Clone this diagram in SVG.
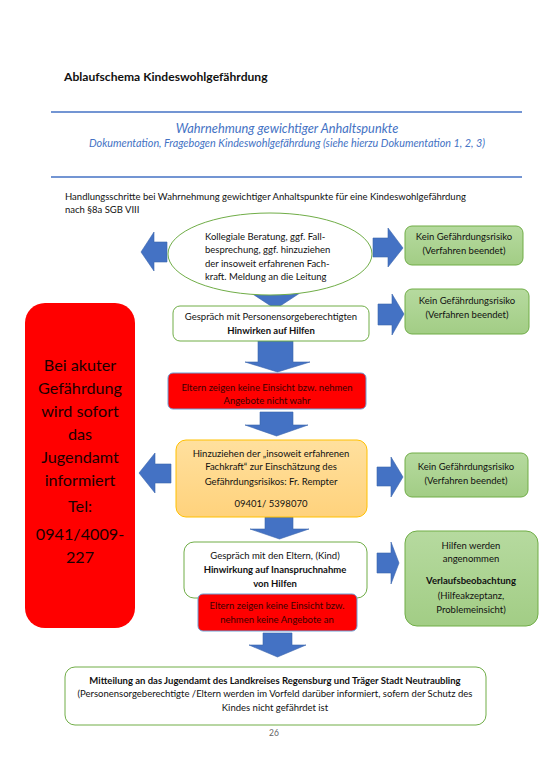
<svg xmlns="http://www.w3.org/2000/svg" width="546" height="779" viewBox="0 0 546 779">
<defs>
<linearGradient id="gGreen" x1="0" y1="0" x2="0" y2="1"><stop offset="0" stop-color="#b6da9f"/><stop offset="1" stop-color="#a2cd85"/></linearGradient>
<linearGradient id="gOrange" x1="0" y1="0" x2="0" y2="1"><stop offset="0" stop-color="#ffe09e"/><stop offset="1" stop-color="#ffd27c"/></linearGradient>
</defs>
<style>
text{font-family:Lato,"Liberation Sans",sans-serif;fill:#111}
.t{font-size:9.5px}
.c{text-anchor:middle}
.b{font-weight:bold}
.blue{fill:#4472c4;font-style:italic}
.arrow{fill:#4472c4;stroke:#3a64ad;stroke-width:0.6}
.green{fill:url(#gGreen);stroke:#70ad47;stroke-width:1}
.white{fill:#fff;stroke:#70ad47;stroke-width:1}
.red{fill:#ff0000;stroke:#6d9fd5;stroke-width:1}
.orange{fill:url(#gOrange);stroke:#ffc000;stroke-width:1}
.rt{fill:#3a0000}
.big{font-size:16.2px;fill:#1a0000;text-anchor:middle}
</style>
<rect width="546" height="779" fill="#fff"/>
<g id="header">
<text x="64" y="81" style="font-size:12.1px" class="b">Ablaufschema Kindeswohlgefährdung</text>
<line x1="51" y1="112" x2="522" y2="112" stroke="#4472c4" stroke-width="1.5"/>
<text x="287" y="133" class="blue c" style="font-size:12.8px">Wahrnehmung gewichtiger Anhaltspunkte</text>
<text x="287" y="147" class="blue c" style="font-size:10.8px">Dokumentation, Fragebogen Kindeswohlgefährdung (siehe hierzu Dokumentation 1, 2, 3)</text>
<line x1="51" y1="177" x2="522" y2="177" stroke="#4472c4" stroke-width="1.5"/>
<text x="65" y="200" style="font-size:9.5px">Handlungsschritte bei Wahrnehmung gewichtiger Anhaltspunkte für eine Kindeswohlgefährdung</text>
<text x="65" y="213" style="font-size:9.5px">nach §8a SGB VIII</text>
</g>
<g id="connectors">
<path class="arrow" d="M262 286H290V291H303L275.5 309L248 291H262Z"/>
<path class="arrow" d="M258 341H293V362H310L277.5 372L245 362H258Z"/>
<path class="arrow" d="M260 412H293V425H308L276.5 436L245 425H260Z"/>
<path class="arrow" d="M265 517H293V529H309L279.5 539L250 529H265Z"/>
<path class="arrow" d="M263 633H292V645H306L277.5 657L249 645H263Z"/>
<path class="arrow" d="M167 242V262H154V271L141 252L154 232V242Z"/>
<path class="arrow" d="M171 464V483H155V493L139 473L155 453V464Z"/>
<path class="arrow" d="M373 238H388V228L403 248L388 267V257H373Z"/>
<path class="arrow" d="M378 304H392V294L404 314L392 335V325H378Z"/>
<path class="arrow" d="M377 467H391V457L403 477L391 497V486H377Z"/>
<path class="arrow" d="M377 553H391V542L399 563L391 584V573H377Z"/>
</g>
<g id="n1">
<ellipse cx="270" cy="254" rx="102" ry="41" fill="#fff" stroke="#70ad47" stroke-width="1"/>
<text x="205" y="240" class="t">Kollegiale Beratung, ggf. Fall-</text>
<text x="205" y="253" class="t">besprechung, ggf. hinzuziehen</text>
<text x="205" y="267" class="t">der insoweit erfahrenen Fach-</text>
<text x="205" y="280" class="t">kraft. Meldung an die Leitung</text>
</g>
<g id="g1">
<rect x="405" y="226" width="118" height="39" rx="7" class="green"/>
<text x="464" y="240" class="t c">Kein Gefährdungsrisiko</text>
<text x="464" y="254" class="t c">(Verfahren beendet)</text>
</g>
<g id="n2">
<rect x="173" y="306" width="196" height="35" rx="7" class="white"/>
<text x="271" y="320" class="t c">Gespräch mit Personensorgeberechtigten</text>
<text x="271" y="334" class="t c b">Hinwirken auf Hilfen</text>
</g>
<g id="g2">
<rect x="405" y="289" width="124" height="45" rx="7" class="green"/>
<text x="467" y="304" class="t c">Kein Gefährdungsrisiko</text>
<text x="467" y="318" class="t c">(Verfahren beendet)</text>
</g>
<g id="r1">
<rect x="168" y="373" width="198" height="36" rx="5" class="red"/>
<text x="267" y="391" class="t c rt">Eltern zeigen keine Einsicht bzw. nehmen</text>
<text x="267" y="404" class="t c rt">Angebote nicht wahr</text>
</g>
<g id="n3">
<rect x="176" y="440" width="191" height="77" rx="10" class="orange"/>
<text x="271" y="457" class="t c">Hinzuziehen der „insoweit erfahrenen</text>
<text x="271" y="470" class="t c">Fachkraft“ zur Einschätzung des</text>
<text x="271" y="485" class="t c">Gefährdungsrisikos: Fr. Rempter</text>
<text x="271" y="507" class="t c">09401/ 5398070</text>
</g>
<g id="g3">
<rect x="405" y="453" width="123" height="44" rx="7" class="green"/>
<text x="466" y="470" class="t c">Kein Gefährdungsrisiko</text>
<text x="466" y="484" class="t c">(Verfahren beendet)</text>
</g>
<g id="n4">
<rect x="184" y="542" width="183" height="56" rx="10" class="white"/>
<text x="275" y="559" class="t c">Gespräch mit den Eltern, (Kind)</text>
<text x="275" y="573" class="t c b">Hinwirkung auf Inanspruchnahme</text>
<text x="275" y="587" class="t c b">von Hilfen</text>
</g>
<g id="r2">
<rect x="198" y="594" width="159" height="37" rx="5" class="red"/>
<text x="277" y="609" class="t c rt">Eltern zeigen keine Einsicht bzw.</text>
<text x="277" y="623" class="t c rt">nehmen keine Angebote an</text>
</g>
<g id="g4">
<rect x="405" y="531" width="133" height="95" rx="12" class="green"/>
<text x="471" y="549" class="t c">Hilfen werden</text>
<text x="471" y="562" class="t c">angenommen</text>
<text x="471" y="584" class="t c b">Verlaufsbeobachtung</text>
<text x="471" y="599" class="t c">(Hilfeakzeptanz,</text>
<text x="471" y="613" class="t c">Problemeinsicht)</text>
</g>
<g id="n5">
<rect x="65" y="667" width="421" height="58" rx="10" class="white"/>
<text x="275" y="684" class="t c b">Mitteilung an das Jugendamt des Landkreises Regensburg und Träger Stadt Neutraubling</text>
<text x="275" y="697" class="t c">(Personensorgeberechtigte /Eltern werden im Vorfeld darüber informiert, sofern der Schutz des</text>
<text x="275" y="711" class="t c">Kindes nicht gefährdet ist</text>
</g>
<g id="alert">
<rect x="25" y="303" width="110" height="325" rx="20" fill="#ff0000"/>
<text x="80" y="371" class="big">Bei akuter</text>
<text x="80" y="394" class="big">Gefährdung</text>
<text x="80" y="417" class="big">wird sofort</text>
<text x="80" y="440" class="big">das</text>
<text x="80" y="463" class="big">Jugendamt</text>
<text x="80" y="486" class="big">informiert</text>
<text x="80" y="512" class="big">Tel:</text>
<text x="80" y="540" class="big">0941/4009-</text>
<text x="80" y="563" class="big">227</text>
</g>
<text x="274" y="736" class="c" style="font-size:8.5px;fill:#666">26</text>
</svg>
